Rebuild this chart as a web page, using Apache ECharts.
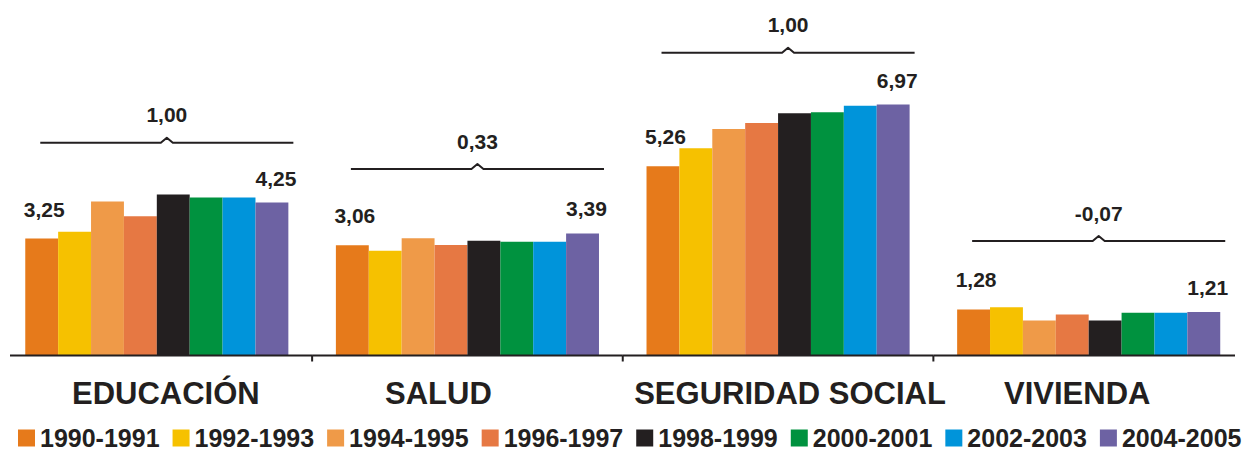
<!DOCTYPE html>
<html>
<head>
<meta charset="utf-8">
<script src="https://cdn.jsdelivr.net/npm/echarts@6/dist/echarts.min.js"></script>
<style>
html,body{margin:0;padding:0;background:#fff;}
#chart{width:1251px;height:451px;}
</style>
</head>
<body>
<div id="chart"></div>
<script>
// ---- data ----
const categories = ['EDUCACIÓN', 'SALUD', 'SEGURIDAD SOCIAL', 'VIVIENDA'];
const periods = ['1990-1991', '1992-1993', '1994-1995', '1996-1997', '1998-1999', '2000-2001', '2002-2003', '2004-2005'];
const s1990 = [3.25, 3.06, 5.26, 1.28];
const s1992 = [3.44, 2.91, 5.76, 1.34];
const s1994 = [4.28, 3.26, 6.29, 0.97];
const s1996 = [3.87, 3.07, 6.46, 1.14];
const s1998 = [4.47, 3.19, 6.73, 0.97];
const s2000 = [4.39, 3.16, 6.76, 1.19];
const s2002 = [4.39, 3.16, 6.94, 1.19];
const s2004 = [4.25, 3.39, 6.97, 1.21];
const differences = [1.00, 0.33, 1.00, -0.07];
const bracketLevels = [5.91, 5.18, 8.41, 3.18];

// ---- styling ----
const seriesValues = [s1990, s1992, s1994, s1996, s1998, s2000, s2002, s2004];
const colors = ['#E67A1B', '#F6C100', '#EF9A48', '#E67843', '#231F20', '#00923F', '#0094DA', '#6D62A3'];
const FONT = "'Liberation Sans', Arial, Helvetica, sans-serif";
const INK = '#231F20';
const CAT_GAP = 0.153;
const fmt = v => v.toFixed(2).replace('.', ',');
const labelPad = [[0, 0, 0, 18], [0, 58, 0, 0], [0, 0, 0, 24], [0, 23, 0, 0]];

const rich = {};
labelPad.forEach((p, i) => {
  rich['c' + i] = { fontFamily: FONT, fontWeight: 'bold', fontSize: 31, color: INK, padding: p, lineHeight: 31 };
});

const barSeries = periods.map((name, i) => {
  const s = {
    name: name,
    type: 'bar',
    data: seriesValues[i],
    barGap: '0%',
    barCategoryGap: (CAT_GAP * 100) + '%',
    itemStyle: { color: colors[i] },
    label: { show: false }
  };
  if (i === 0 || i === periods.length - 1) {
    s.label = {
      show: true,
      position: 'top',
      distance: i === 0 ? 19 : 14,
      offset: [i === 0 ? 2.5 : 4, 0],
      formatter: p => fmt(p.value),
      fontFamily: FONT, fontWeight: 'bold', fontSize: 21, lineHeight: 21, color: INK
    };
  }
  return s;
});

const nCat = categories.length;
const bracketSeries = {
  name: 'brackets',
  type: 'custom',
  silent: true,
  clip: false,
  z: 5,
  encode: { x: 0, y: 1 },
  data: categories.map((c, i) => [i, bracketLevels[i], differences[i]]),
  renderItem: function (params, api) {
    const idx = api.value(0);
    const pt = api.coord([idx, api.value(1)]);
    const base = api.coord([idx, 0]);
    const catW = api.size([1, 0])[0];
    const groupW = catW * (1 - CAT_GAP);
    const x1 = pt[0] - groupW / 2 + 15;
    const x2 = pt[0] + groupW / 2 + 5;
    const xm = (x1 + x2) / 2;
    const y = pt[1];
    // baseline segment for this category (ends trimmed like the original)
    const left = base[0] - catW / 2;
    const bx1 = left + (idx === 0 ? 8.5 : 0);
    const bx2 = base[0] + catW / 2 - (idx === nCat - 1 ? 9 : 0);
    const children = [
      {
        type: 'line',
        shape: { x1: bx1, y1: base[1], x2: bx2, y2: base[1] },
        style: { stroke: INK, lineWidth: 2 }
      },
      {
        type: 'polyline',
        shape: { points: [[x1, y], [xm - 6, y], [xm, y - 5], [xm + 6, y], [x2, y]] },
        style: { stroke: INK, lineWidth: 2, fill: null, lineJoin: 'round' }
      },
      {
        type: 'text',
        x: xm, y: y - 28,
        style: {
          text: fmt(api.value(2)),
          fill: INK, font: 'bold 21px ' + FONT,
          align: 'center', verticalAlign: 'middle'
        }
      }
    ];
    if (idx > 0) {
      children.push({
        type: 'line',
        shape: { x1: left, y1: base[1], x2: left, y2: base[1] + 6 },
        style: { stroke: INK, lineWidth: 2 }
      });
    }
    return { type: 'group', children: children };
  }
};

const chart = echarts.init(document.getElementById('chart'), null, { renderer: 'svg' });
chart.setOption({
  animation: false,
  backgroundColor: '#ffffff',
  color: colors,
  grid: { left: 1.5, right: 7, top: 31.5, bottom: 95.5, containLabel: false },
  legend: {
    data: periods,
    left: 18,
    top: 425,
    padding: 0,
    icon: 'rect',
    itemWidth: 17,
    itemHeight: 17,
    itemGap: 13,
    textStyle: { fontFamily: FONT, fontWeight: 'bold', fontSize: 25, lineHeight: 26, color: INK, padding: [0, 0, 0, 0] }
  },
  xAxis: {
    type: 'category',
    data: categories,
    axisLine: { show: false },
    axisTick: { show: false },
    axisLabel: {
      interval: 0,
      margin: 22,
      formatter: (v, idx) => '{c' + idx + '|' + v + '}',
      rich: rich
    }
  },
  yAxis: {
    type: 'value',
    min: 0,
    max: 9,
    show: false,
    splitLine: { show: false }
  },
  series: barSeries.concat([bracketSeries])
});
</script>
</body>
</html>
